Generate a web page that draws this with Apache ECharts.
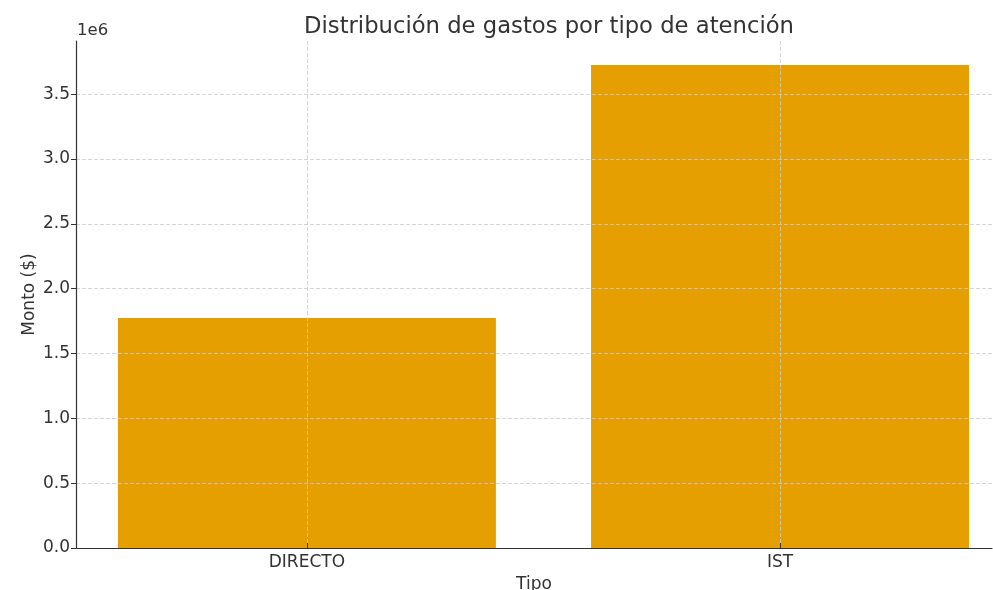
<!DOCTYPE html>
<html>
<head>
<meta charset="utf-8">
<script src="https://cdn.jsdelivr.net/npm/echarts@6/dist/echarts.min.js"></script>
<style>
  html, body { margin: 0; padding: 0; background: #fff; }
  #chart { width: 993px; height: 590px; }
</style>
</head>
<body>
<div id="chart"></div>
<script>
// datos
const categories = ["DIRECTO", "IST"];
const montos = [1773000, 3724000];
const yTicks = [0, 0.5, 1.0, 1.5, 2.0, 2.5, 3.0, 3.5];

const chart = echarts.init(document.getElementById("chart"));
const font = "DejaVu Sans";

const option = {
  animation: false,
  textStyle: { fontFamily: font },
  title: {
    text: "Distribución de gastos por tipo de atención",
    left: 544,
    top: 11,
    textAlign: "center",
    textStyle: { fontFamily: font, fontSize: 22.7, fontWeight: "normal", color: "#333" },
  },
  graphic: [
    {
      type: "text",
      left: 77,
      top: 22,
      style: { text: "1e6", font: "16.5px DejaVu Sans", fill: "#333" },
    },
  ],
  grid: { left: 76, right: 1, top: 41, bottom: 42, outerBoundsMode: "none" },
  xAxis: {
    type: "value",
    min: -0.488,
    max: 1.448,
    z: 5,
    name: "Tipo",
    nameLocation: "middle",
    nameGap: 28,
    nameTextStyle: { fontFamily: font, fontSize: 17, color: "#333" },
    axisLine: { show: true, onZero: false, lineStyle: { color: "#333", width: 1.2 } },
    axisTick: {
      show: true,
      inside: true,
      length: 5,
      customValues: categories.map((c, i) => i),
      lineStyle: { color: "#333" },
    },
    axisLabel: {
      customValues: categories.map((c, i) => i),
      formatter: (v) => categories[Math.round(v)] || "",
      fontFamily: font,
      fontSize: 17,
      color: "#333",
      margin: 6,
    },
    splitLine: {
      show: true,
      showMinLine: true,
      showMaxLine: true,
      lineStyle: { color: "#ccc", type: [4, 2], width: 0.8 },
    },
  },
  yAxis: {
    type: "value",
    min: 0,
    max: 3910000,
    interval: 500000,
    z: 5,
    name: "Monto ($)",
    nameLocation: "middle",
    nameGap: 38,
    nameMoveOverlap: false,
    nameRotate: 90,
    nameTextStyle: { fontFamily: font, fontSize: 17, color: "#333" },
    axisLine: { show: true, onZero: false, lineStyle: { color: "#333", width: 1.2 } },
    axisTick: {
      show: true,
      length: 5,
      customValues: yTicks.map((t) => t * 1e6),
      lineStyle: { color: "#333" },
    },
    axisLabel: {
      customValues: yTicks.map((t) => t * 1e6),
      formatter: (v) => (v / 1e6).toFixed(1),
      fontFamily: font,
      fontSize: 17,
      color: "#333",
      margin: 6,
    },
    splitLine: {
      show: true,
      showMinLine: true,
      showMaxLine: true,
      lineStyle: { color: "#ccc", type: [4, 2], width: 0.8 },
    },
  },
  series: [
    {
      type: "bar",
      data: montos.map((v, i) => [i, v]),
      barWidth: 378,
      itemStyle: { color: "#E69F00" },
      z: 2,
    },
  ],
};

chart.setOption(option);
</script>
</body>
</html>
